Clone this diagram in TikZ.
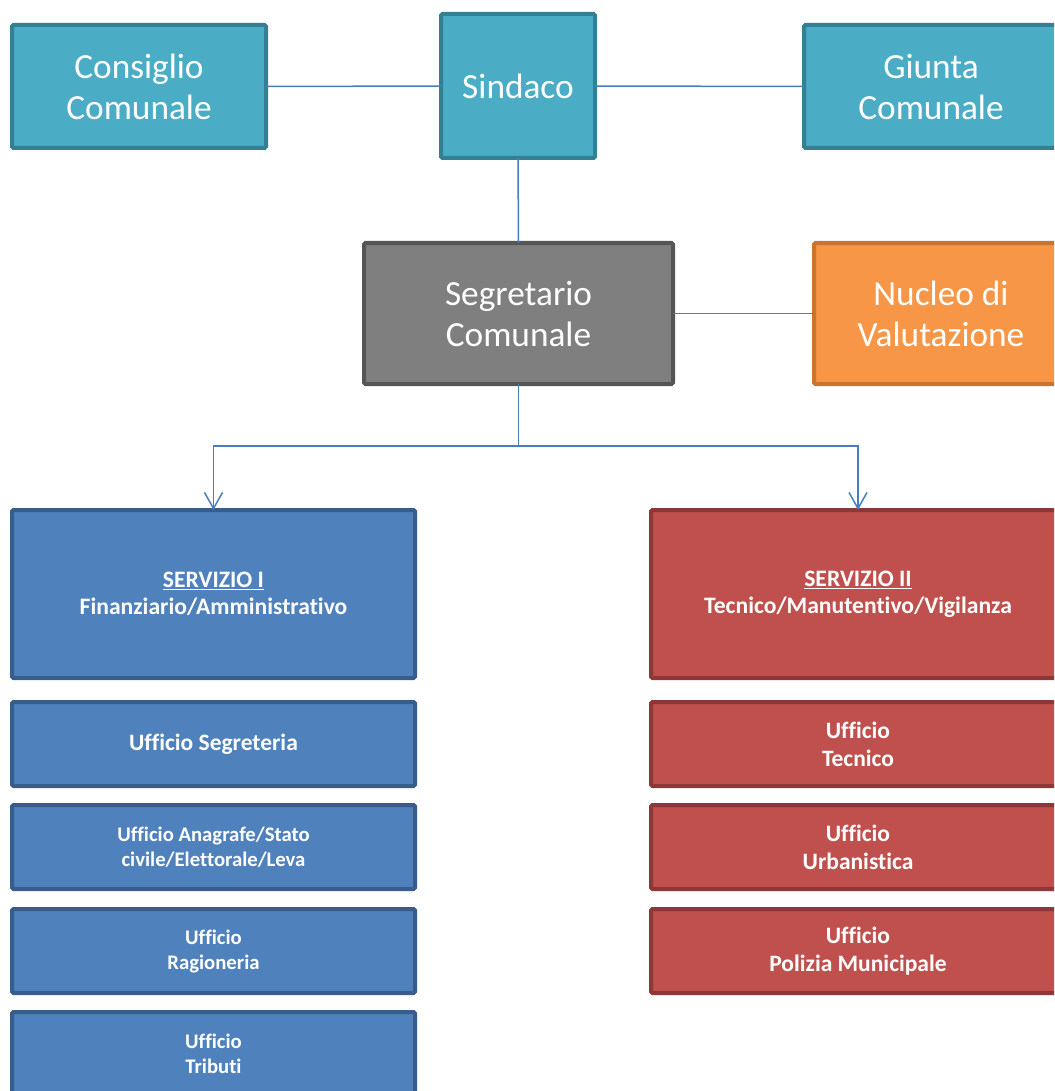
\documentclass[tikz,border=0pt]{standalone}
\usepackage{fontspec}
\setmainfont{Carlito}[Ligatures={NoCommon}]
\usetikzlibrary{arrows.meta}
\definecolor{tealF}{HTML}{4BACC6}
\definecolor{tealD}{HTML}{357F93}
\definecolor{grayF}{HTML}{7F7F7F}
\definecolor{grayD}{HTML}{555555}
\definecolor{orF}{HTML}{F79646}
\definecolor{orD}{HTML}{C9742F}
\definecolor{blF}{HTML}{4F81BD}
\definecolor{blD}{HTML}{385D8A}
\definecolor{rdF}{HTML}{C0504D}
\definecolor{rdD}{HTML}{8C3836}
\definecolor{lnC}{HTML}{4A7EBB}
\tikzset{
  box/.style={rectangle, line width=4pt, rounded corners=1.5pt, inner sep=0pt, outer sep=0pt, text=white, align=center},
  topbox/.style={box, font=\fontsize{35.3}{41}\selectfont},
  tealbox/.style={topbox, fill=tealF, draw=tealD},
  graybox/.style={topbox, fill=grayF, draw=grayD},
  orbox/.style={topbox, fill=orF, draw=orD},
  bluebox/.style={box, fill=blF, draw=blD, minimum width=403pt},
  redbox/.style={box, fill=rdF, draw=rdD, minimum width=414pt},
  conn/.style={draw=lnC, line width=1.5pt},
  arr/.style={conn, -{Straight Barb[length=16pt,width=18pt,line width=1.5pt]}},
  bigb/.style={font=\fontsize{23.6}{27}\selectfont\bfseries},
  midb/.style={font=\fontsize{23.5}{28}\selectfont\bfseries},
  smb/.style={font=\fontsize{20.7}{25}\selectfont\bfseries}
}
\begin{document}
\begin{tikzpicture}[x=1pt,y=-1pt]
\useasboundingbox (0,0) rectangle (1054,1091);
\clip (0,0) rectangle (1054,1091);
% top row
\node[tealbox, minimum width=254pt, minimum height=123pt] (cons) at (139,86.5) {Consiglio\\Comunale};
\node[tealbox, minimum width=154pt, minimum height=144pt] (sind) at (518,86) {Sindaco};
\node[tealbox, minimum width=254pt, minimum height=123pt] (giun) at (931,86.5) {Giunta\\Comunale};
% second row
\node[graybox, minimum width=309pt, minimum height=141pt] (segr) at (518.5,313.5) {Segretario\\Comunale};
\node[orbox, minimum width=254pt, minimum height=141pt] (nucl) at (941,313.5) {Nucleo di\\Valutazione};
% servizi
\node[bluebox, minimum height=168pt, bigb] (s1) at (213.5,594) {\underline{SERVIZIO I}\\Finanziario/Amministrativo};
\node[redbox, minimum height=168pt, bigb] (s2) at (858,594) {\underline{SERVIZIO II}\\Tecnico/Manutentivo/Vigilanza};
% uffici servizio I
\node[bluebox, minimum height=84pt, midb] (u1) at (213.5,744) {Ufficio Segreteria};
\node[bluebox, minimum height=84pt, smb] (u2) at (213.5,847) {Ufficio Anagrafe/Stato\\civile/Elettorale/Leva};
\node[bluebox, minimum height=84pt, smb] (u3) at (213.5,951) {Ufficio\\Ragioneria};
\node[bluebox, minimum height=84pt, smb] (u4) at (213.5,1054) {Ufficio\\Tributi};
% uffici servizio II
\node[redbox, minimum height=84pt, midb] (r1) at (858,744) {Ufficio\\Tecnico};
\node[redbox, minimum height=84pt, midb] (r2) at (858,847) {Ufficio\\Urbanistica};
\node[redbox, minimum height=84pt, midb] (r3) at (858,951) {Ufficio\\Polizia Municipale};
% connectors
\draw[conn] (cons.east) -- (sind.west);
\draw[conn] (sind.east) -- (giun.west);
\draw[conn] (sind.south) -- (segr.north);
\draw[conn] (segr.east) -- (nucl.west);
\coordinate (split) at (518.5,446);
\draw[conn] (segr.south) -- (split);
\draw[arr] (split) -| (s1.north);
\draw[arr] (split) -| (s2.north);
\end{tikzpicture}
\end{document}
